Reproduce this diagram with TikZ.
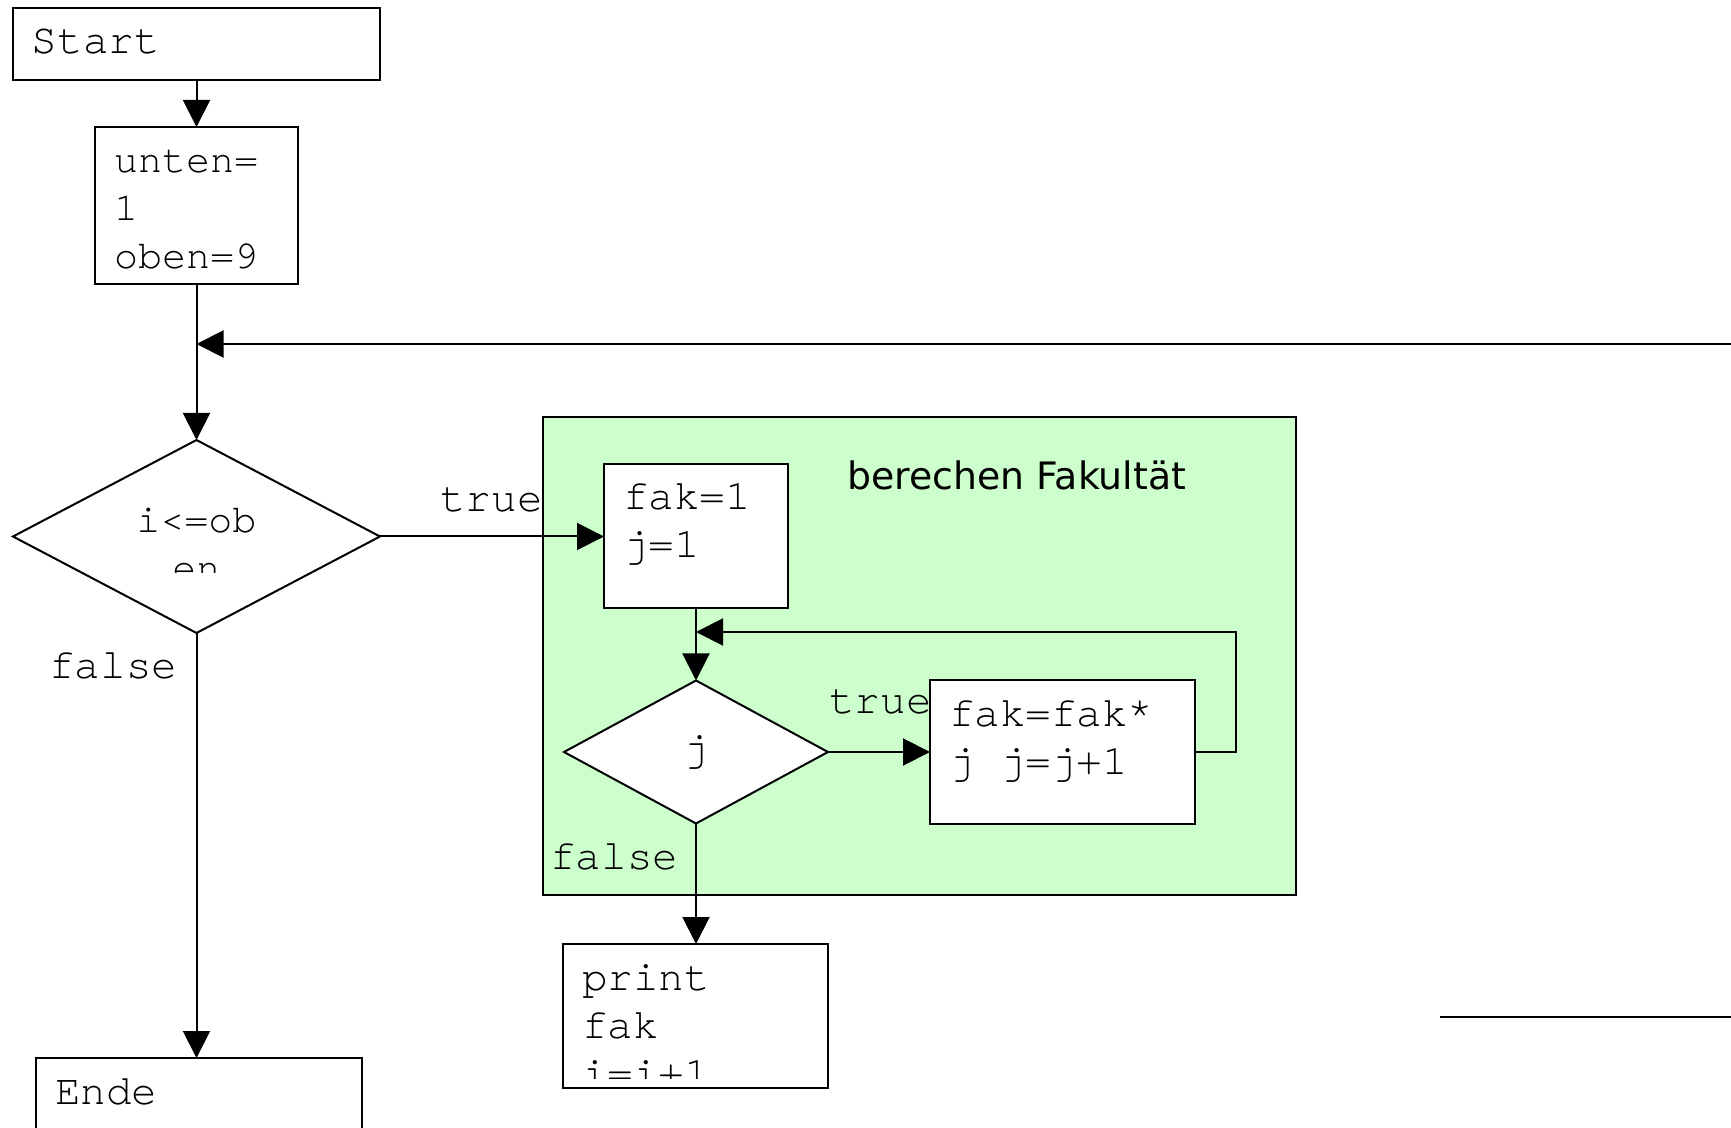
\documentclass[tikz,border=0pt]{standalone}
\usepackage{fontspec}
\usetikzlibrary{shapes.geometric,arrows.meta,calc}
\newfontfamily\codefont{texgyrecursor-regular.otf}
\newfontfamily\titlefont{DejaVu Sans}
\definecolor{groupgreen}{HTML}{CCFFCC}
% one monospace cell, used where a space must keep the full cell width
\newcommand{\cellspace}{\hspace{0.6em}}
\tikzset{
  code/.style={font=\codefont\fontsize{21.3pt}{24pt}\selectfont},
  smallcode/.style={font=\codefont\fontsize{20pt}{24pt}\selectfont},
  flowbox/.style={code, rectangle, draw, fill=white, line width=1pt, anchor=north west,
    outer sep=0pt, inner xsep=9.5pt, inner ysep=0pt, align=left, text height=23pt},
  boxtext/.style={code, anchor=north west, outer sep=0pt, inner xsep=9.5pt, inner ysep=0pt,
    align=left, text height=23pt},
  decision/.style={code, diamond, draw, fill=white, line width=1pt, inner sep=0pt, outer sep=0pt},
  flow/.style={line width=1pt, -{Triangle[length=13.5pt,width=13.5pt]}},
  plainline/.style={line width=1pt},
  lbl/.style={code, inner sep=0pt, anchor=base west},
  groupbox/.style={rectangle, draw, fill=groupgreen, line width=1pt, anchor=north west,
    inner sep=0pt, outer sep=0pt},
  grouptitle/.style={font=\titlefont\fontsize{18.9pt}{22pt}\selectfont, inner sep=0pt, anchor=base west},
}
\begin{document}
\begin{tikzpicture}[x=0.5pt,y=-0.5pt]
\useasboundingbox (0,0) rectangle (1731,1128);

% outer program flow
\node[flowbox, text width=164.5pt, text depth=13pt] (start) at (13,8) {Start};
\node[flowbox, smallcode, text width=82.5pt, text depth=55.5pt] (unten) at (95,127) {unten=\\1\\oben=9};
\node[decision, minimum width=183.5pt, minimum height=96.5pt] (cond) at (196.5,536.5) {};
\begin{scope}
  \clip (60,470) rectangle (340,573);
  \node[smallcode, anchor=base, inner sep=0pt, text width=150pt, align=center] (condtext) at (196.5,533) {i<=ob\\en};
\end{scope}
\node[flowbox, text width=144pt, text depth=77pt] (ende) at (36,1058) {Ende};

% factorial group
\node[groupbox, minimum width=376.5pt, minimum height=239pt] (group) at (543,417) {};
\node[grouptitle] (grouptitle) at (847,490) {berechen Fakultät};
\node[flowbox, text width=73pt, text depth=49pt] (init) at (604,464) {fak=1\\j=1};
\node[decision, minimum width=132pt, minimum height=71.5pt] (inner) at (696,752) {j};
\node[flowbox, text width=113.5pt, text depth=49pt] (body) at (930,680) {fak=fak*\\j\cellspace j=j+1};

% output box
\node[flowbox, text width=113.5pt, text depth=49pt] (print) at (563,944) {};
\begin{scope}
  \clip (print.north west) rectangle ($(print.south east)+(0,-10)$);
  \node[boxtext, text width=113.5pt] (printtext) at (print.north west) {print\\fak\\i=i+1};
\end{scope}

% branch labels
\node[lbl] (condtrue) at (440,512) {true};
\node[lbl] (condfalse) at (49,678) {false};
\node[lbl] (innertrue) at (829,713) {true};
\node[lbl] (innerfalse) at (550,869) {false};

% connectors
\coordinate (loopin) at (1731,344);
\coordinate (loopturn) at (1236,632);
\coordinate (strayA) at (1440,1017);
\coordinate (strayB) at (1731,1017);

\draw[flow] (start.south) -- (unten.north);
\draw[flow] (unten.south) -- (cond.north);
\draw[flow] (loopin) -- (loopin -| unten.south);
\draw[flow] (cond.east) -- (cond.east -| init.west);
\draw[flow] (cond.south) -- (cond.south |- ende.north);
\draw[flow] (init.south) -- (inner.north);
\draw[flow] (inner.east) -- (inner.east -| body.west);
\draw[flow] (body.east) -| (loopturn) -- (loopturn -| init.south);
\draw[flow] (inner.south) -- (inner.south |- print.north);
\draw[plainline] (strayA) -- (strayB);
\end{tikzpicture}
\end{document}
